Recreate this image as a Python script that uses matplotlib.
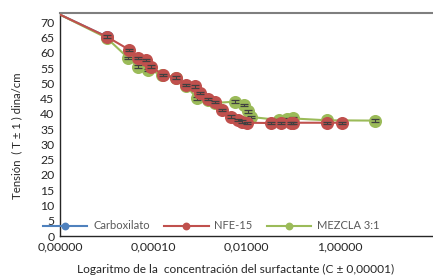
import matplotlib
matplotlib.use("Agg")
import matplotlib.pyplot as plt
from matplotlib.ticker import FixedLocator, FuncFormatter, NullLocator

plt.rcParams['font.family'] = ['Lato', 'DejaVu Sans']

# datos (concentracion, tension)
carb_c = [1e-6, 1.0e-5]
carb_t = [72.5, 65.3]

nfe_c = [1e-6, 1.0e-5, 3.05e-5, 4.8e-5, 7.0e-5, 9.1e-5, 1.58e-4, 3.1e-4, 5.1e-4,
         7.9e-4, 1.02e-3, 1.5e-3, 2.1e-3, 3.0e-3, 4.6e-3, 6.5e-3, 8.1e-3, 1.05e-2,
         3.3e-2, 5.4e-2, 8.9e-2, 0.10, 0.54, 1.14]
nfe_t = [72.5, 65.3, 61.0, 58.3, 57.7, 55.5, 52.8, 51.9, 49.5,
         49.0, 46.9, 44.9, 43.9, 41.3, 39.1, 38.0, 37.5, 37.1,
         37.0, 37.0, 37.0, 37.1, 37.1, 37.1]

mez_c = [1e-6, 1.0e-5, 2.9e-5, 4.75e-5, 7.9e-5, 1.55e-4, 3.1e-4, 5.1e-4, 8.6e-4,
         1.5e-3, 2.1e-3, 5.8e-3, 8.7e-3, 1.1e-2, 1.23e-2, 5.0e-2, 7.5e-2, 0.10,
         0.54, 5.8]
mez_t = [72.5, 64.9, 58.3, 55.5, 54.4, 52.8, 51.8, 49.2, 45.1,
         44.6, 43.6, 44.0, 42.9, 40.8, 39.0, 38.0, 38.3, 38.5,
         37.9, 37.8]

azul = '#4F81BD'
rojo = '#C0504D'
verde = '#9BBB59'
gris = '#404040'

fig = plt.figure(figsize=(4.33, 2.79), dpi=100)
ax = fig.add_axes([0.1386, 0.154, 0.8614, 0.799])

ms = 9.4
eb = 0.4
l1, = ax.plot(carb_c, carb_t, color=azul, lw=1.5, marker='o', ms=ms, mew=0,
              markevery=range(1, len(carb_c)), zorder=2, label='Carboxilato')
l3, = ax.plot(mez_c, mez_t, color=verde, lw=1.5, marker='o', ms=ms, mew=0,
              markevery=range(1, len(mez_c)), zorder=3, label='MEZCLA 3:1')
ax.errorbar(mez_c[1:], mez_t[1:], yerr=eb, fmt='none', ecolor=gris, elinewidth=0.8,
            capsize=3, capthick=0.9, zorder=4)
l2, = ax.plot(nfe_c, nfe_t, color=rojo, lw=1.5, marker='o', ms=ms, mew=0,
              markevery=range(1, len(nfe_c)), zorder=5, label='NFE-15')
ax.errorbar(nfe_c[1:], nfe_t[1:], yerr=eb, fmt='none', ecolor=gris, elinewidth=0.8,
            capsize=3, capthick=0.9, zorder=6)

ax.set_xscale('log')
ax.set_xlim(1e-6, 1e2)
ax.set_ylim(0, 73)
ax.xaxis.set_major_locator(FixedLocator([1e-6, 1e-4, 1e-2, 1]))
ax.xaxis.set_minor_locator(NullLocator())
ax.xaxis.set_major_formatter(FuncFormatter(lambda v, p: f"{v:.5f}".replace('.', ',')))
ax.set_yticks(range(0, 71, 5))
ax.tick_params(length=0, labelsize=8.8, colors='#262626', pad=4)

for s in ['left', 'bottom']:
    ax.spines[s].set_color('#262626')
    ax.spines[s].set_linewidth(1.0)
ax.spines['top'].set_color('#7f7f7f')
ax.spines['top'].set_linewidth(1.5)
ax.spines['right'].set_visible(False)

ax.set_ylabel('Tensión  ( T ± 1 ) dina/cm', fontsize=8.2, color='#262626')
ax.yaxis.set_label_coords(-0.10, 0.45)
ax.set_xlabel('Logaritmo de la  concentración del surfactante (C ± 0,00001)',
              fontsize=8.6, color='#262626')
ax.xaxis.set_label_coords(0.47, -0.125)

leg = fig.legend(handles=[l1, l2, l3], loc='center left',
                 bbox_to_anchor=(43 / 433, 0.19), borderaxespad=0, borderpad=0,
                 ncol=3, frameon=False, fontsize=8, handlelength=4,
                 columnspacing=1.3, handletextpad=0.5, markerscale=0.6)
for t in leg.get_texts():
    t.set_color('#595959')

plt.savefig('out.png', dpi=100)
